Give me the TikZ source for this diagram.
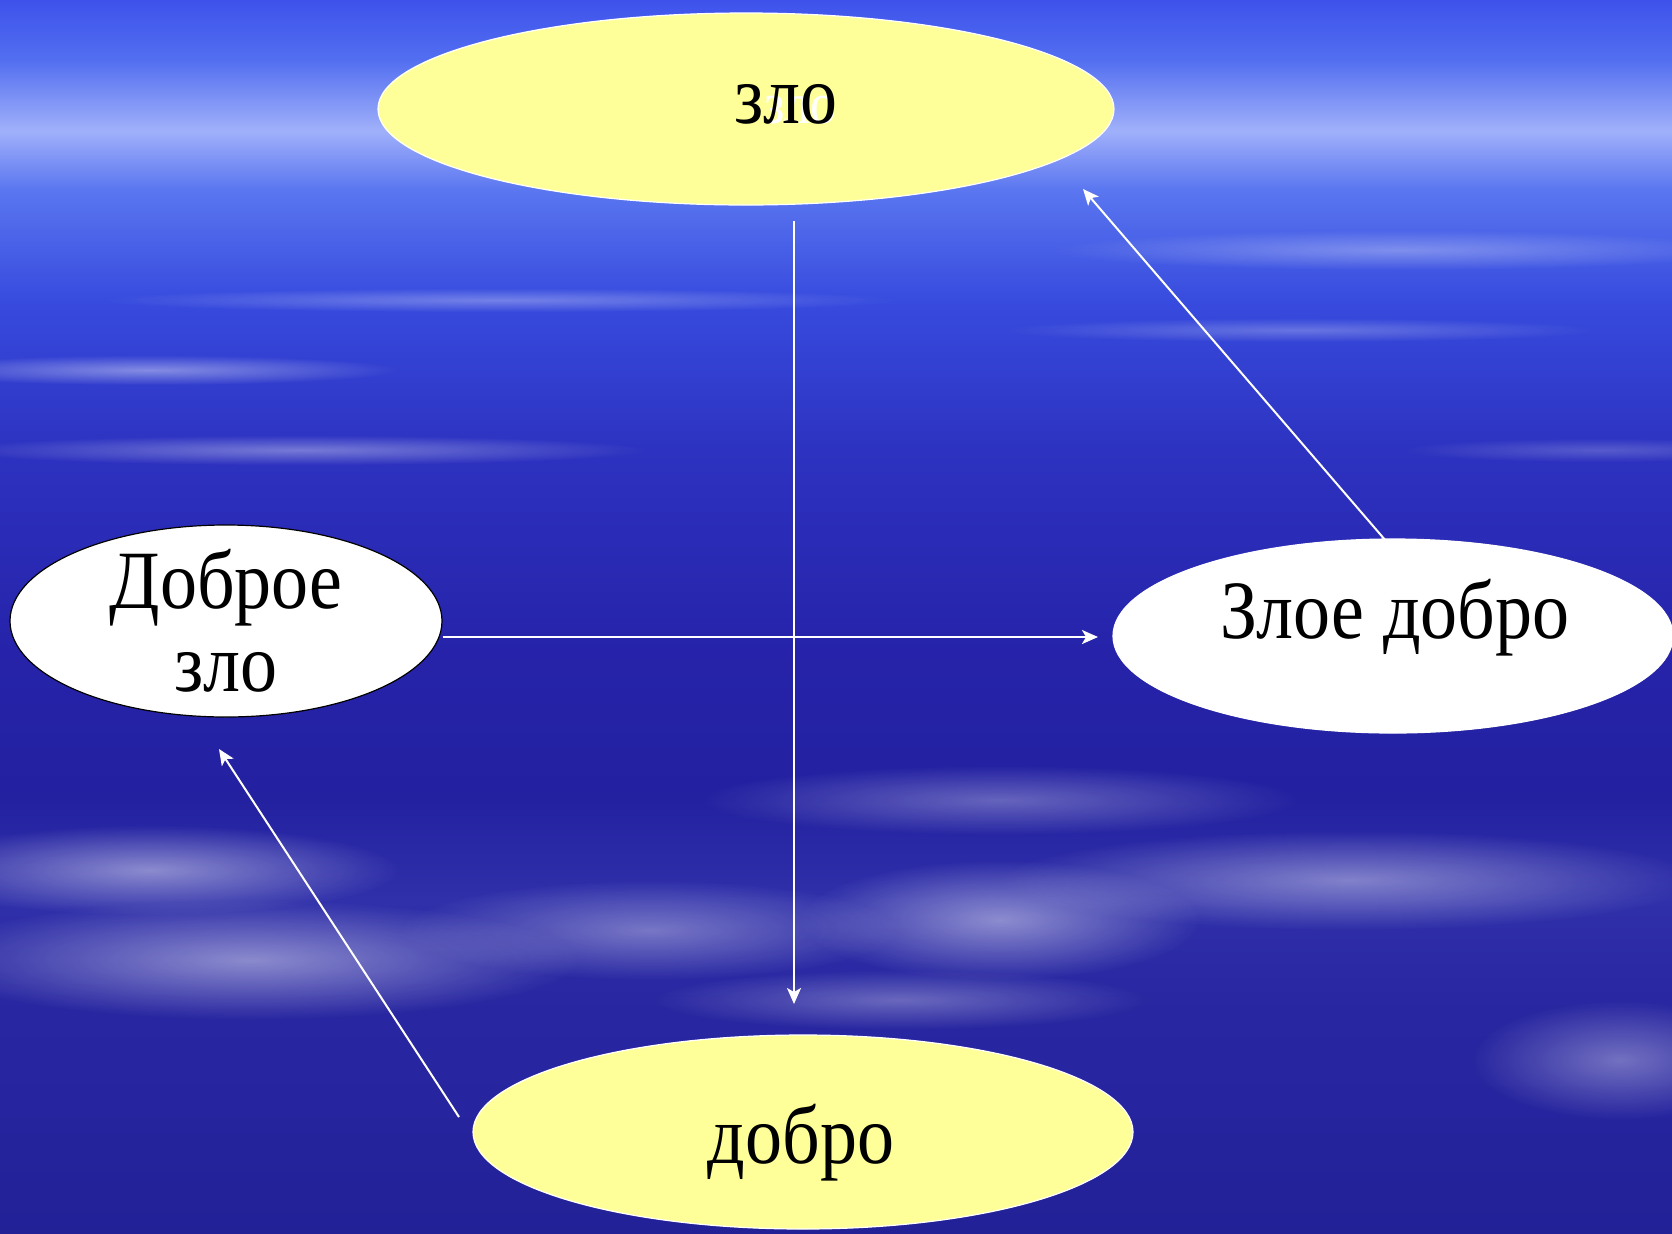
\documentclass[tikz,border=0pt]{standalone}
\usepackage{fontspec}
\setmainfont{Liberation Serif}
\usetikzlibrary{arrows.meta,shapes.geometric,fadings}

\definecolor{paleyellow}{RGB}{255,255,153}
\definecolor{skyA}{RGB}{35,33,150}
\definecolor{skyB}{RGB}{38,36,158}
\definecolor{skyC}{RGB}{40,38,160}
\definecolor{skyD}{RGB}{48,48,170}
\definecolor{skyE}{RGB}{35,33,160}
\definecolor{skyF}{RGB}{38,35,170}
\definecolor{skyG}{RGB}{45,50,192}
\definecolor{skyH}{RGB}{55,75,222}
\definecolor{skyI}{RGB}{90,118,240}
\definecolor{skyJ}{RGB}{160,176,250}
\definecolor{skyK}{RGB}{82,110,240}
\definecolor{skyL}{RGB}{62,82,235}
\pgfdeclareverticalshading{sky}{100bp}{%
  color(0bp)=(skyA); color(25bp)=(skyA); color(30bp)=(skyB);
  color(34bp)=(skyC); color(38.5bp)=(skyD); color(42.6bp)=(skyE);
  color(48.6bp)=(skyF); color(56.7bp)=(skyG); color(62.8bp)=(skyH);
  color(67.3bp)=(skyI); color(69.7bp)=(skyJ); color(72.6bp)=(skyK);
  color(75bp)=(skyL); color(100bp)=(skyL)}
\tikzfading[name=softedge,inner color=transparent!0,outer color=transparent!100]
\newcommand{\tall}[1]{\scalebox{1}[1.12]{#1}}

\begin{document}
\begin{tikzpicture}[x=0.5pt,y=-0.5pt,>={Stealth[length=8pt,width=7pt,inset=2pt]}]
  \tikzstyle{every node}=[inner sep=0pt]
  \tikzstyle{oval}=[ellipse,draw=white,line width=0.6pt]
  \tikzstyle{yellowoval}=[oval,fill=paleyellow]
  \tikzstyle{whiteoval}=[oval,fill=white]
  \tikzstyle{word}=[anchor=base,text=black,font=\fontsize{37}{37}\selectfont]
  \tikzstyle{link}=[->,draw=white,line width=1pt]
  \tikzstyle{cloud}=[white,path fading=softedge]

  % background
  \useasboundingbox (0,0) rectangle (1672,1233);
  \shade[shading=sky] (0,0) rectangle (1672,1233);
  % streaks up high
  \fill[cloud,opacity=0.40] (150,370) ellipse (250 and 15);
  \fill[cloud,opacity=0.35] (300,450) ellipse (350 and 15);
  \fill[cloud,opacity=0.30] (500,300) ellipse (400 and 12);
  \fill[cloud,opacity=0.30] (1400,250) ellipse (350 and 20);
  \fill[cloud,opacity=0.25] (1300,330) ellipse (300 and 12);
  \fill[cloud,opacity=0.20] (1600,450) ellipse (200 and 12);
  % clouds down low
  \fill[cloud,opacity=0.45] (150,870) ellipse (250 and 45);
  \fill[cloud,opacity=0.45] (250,960) ellipse (330 and 60);
  \fill[cloud,opacity=0.35] (650,930) ellipse (250 and 50);
  \fill[cloud,opacity=0.45] (1000,920) ellipse (200 and 60);
  \fill[cloud,opacity=0.40] (1350,880) ellipse (350 and 50);
  \fill[cloud,opacity=0.35] (1620,1060) ellipse (150 and 60);
  \fill[cloud,opacity=0.30] (1000,800) ellipse (300 and 35);
  \fill[cloud,opacity=0.30] (900,1000) ellipse (250 and 30);

  % ovals
  \node[yellowoval,minimum width=368pt,minimum height=96pt] (zlo) at (746,109) {};
  \node[whiteoval,draw=black,minimum width=216pt,minimum height=96pt] (dobroezlo) at (226,621) {};
  \node[whiteoval,minimum width=280pt,minimum height=97pt] (zloedobro) at (1393,636) {};
  \node[yellowoval,minimum width=330pt,minimum height=97pt] (dobro) at (803,1132) {};

  % texts
  \node[word,anchor=base east,text=white,font=\fontsize{26}{26}\selectfont] (zlo-ghost) at (837,123) {\tall{зло}};
  \node[word] (zlo-text) at (786,123) {\tall{зло}};
  \node[word] (dobroezlo-text1) at (226,608) {\tall{Доброе}};
  \node[word] (dobroezlo-text2) at (226,691) {\tall{зло}};
  \node[word] (zloedobro-text) at (1395,638) {\tall{Злое добро}};
  \node[word] (dobro-text) at (801,1163) {\tall{добро}};

  % arrow ends
  \coordinate (zlo-out) at (794,221);
  \coordinate (dobro-in) at (794,1004);
  \coordinate (zloedobro-in) at (1098,637);
  \coordinate (dobroezlo-out) at (dobroezlo.east |- zloedobro-in);
  \coordinate (zloedobro-out) at (1386,541);
  \coordinate (zlo-in) at (1083,189);
  \coordinate (dobro-out) at (459,1117);
  \coordinate (dobroezlo-in) at (219,749);

  \path (zlo-out) edge[link] (dobro-in)
        (dobroezlo-out) edge[link] (zloedobro-in)
        (zloedobro-out) edge[link] (zlo-in)
        (dobro-out) edge[link] (dobroezlo-in);
\end{tikzpicture}
\end{document}
